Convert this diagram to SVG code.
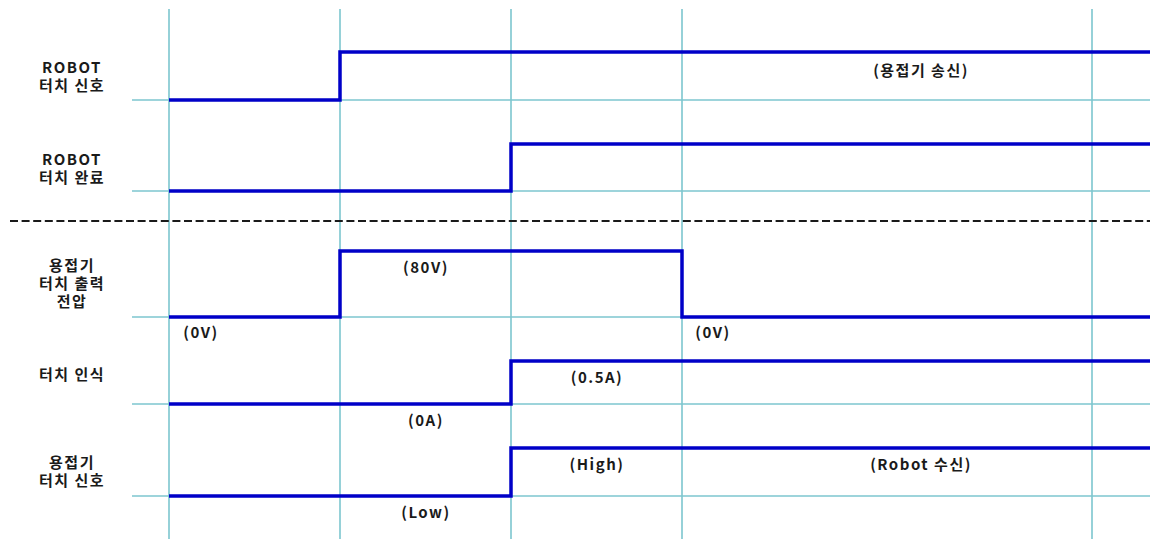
<svg xmlns="http://www.w3.org/2000/svg" width="1150" height="539" viewBox="0 0 1150 539">
<style>
.grid{stroke:#7cc6cf;stroke-width:1.6;fill:none}
.sig{stroke:#0000c8;stroke-width:3.5;fill:none;stroke-linejoin:miter;stroke-linecap:butt}
.sep{stroke:#1a1a1a;stroke-width:2.2;stroke-dasharray:8 3.6;fill:none}
text{font-family:"Noto Sans CJK KR","Liberation Sans",sans-serif;font-weight:bold;font-size:15px;letter-spacing:1.5px;fill:#1a1a1a;text-anchor:middle}
</style>
<rect width="1150" height="539" fill="#ffffff"/>
<g id="grid">
<line class="grid" x1="169" y1="9" x2="169" y2="539"/>
<line class="grid" x1="340" y1="9" x2="340" y2="539"/>
<line class="grid" x1="511" y1="9" x2="511" y2="539"/>
<line class="grid" x1="682" y1="9" x2="682" y2="539"/>
<line class="grid" x1="1092" y1="9" x2="1092" y2="539"/>
<line class="grid" x1="132" y1="100" x2="1150" y2="100"/>
<line class="grid" x1="132" y1="191" x2="1150" y2="191"/>
<line class="grid" x1="132" y1="317" x2="1150" y2="317"/>
<line class="grid" x1="132" y1="404" x2="1150" y2="404"/>
<line class="grid" x1="132" y1="496" x2="1150" y2="496"/>
</g>
<line class="sep" x1="10" y1="221" x2="1150" y2="221"/>
<g id="connectors">
<path id="sig-robot-touch" class="sig" d="M169 100 H340 V52 H1150"/>
<path id="sig-robot-done" class="sig" d="M169 191 H511 V144 H1150"/>
<path id="sig-voltage" class="sig" d="M169 317 H340 V251 H682 V317 H1150"/>
<path id="sig-detect" class="sig" d="M169 404 H511 V361 H1150"/>
<path id="sig-welder-signal" class="sig" d="M169 496 H511 V448 H1150"/>
</g>
<g id="label-robot-touch">
<text x="72" y="73">ROBOT</text>
<text x="72" y="91">터치 신호</text>
</g>
<g id="label-robot-done">
<text x="72" y="165">ROBOT</text>
<text x="72" y="183">터치 완료</text>
</g>
<g id="label-voltage">
<text x="72" y="271">용접기</text>
<text x="72" y="289">터치 출력</text>
<text x="72" y="307">전압</text>
</g>
<g id="label-detect">
<text x="72" y="380">터치 인식</text>
</g>
<g id="label-welder-signal">
<text x="72" y="468">용접기</text>
<text x="72" y="486">터치 신호</text>
</g>
<g id="values">
<text x="921" y="76">(용접기 송신)</text>
<text x="426" y="273">(80V)</text>
<text x="201" y="338">(0V)</text>
<text x="713" y="338">(0V)</text>
<text x="597" y="383">(0.5A)</text>
<text x="426" y="426">(0A)</text>
<text x="597" y="470">(High)</text>
<text x="921" y="470">(Robot 수신)</text>
<text x="426" y="518">(Low)</text>
</g>
</svg>
